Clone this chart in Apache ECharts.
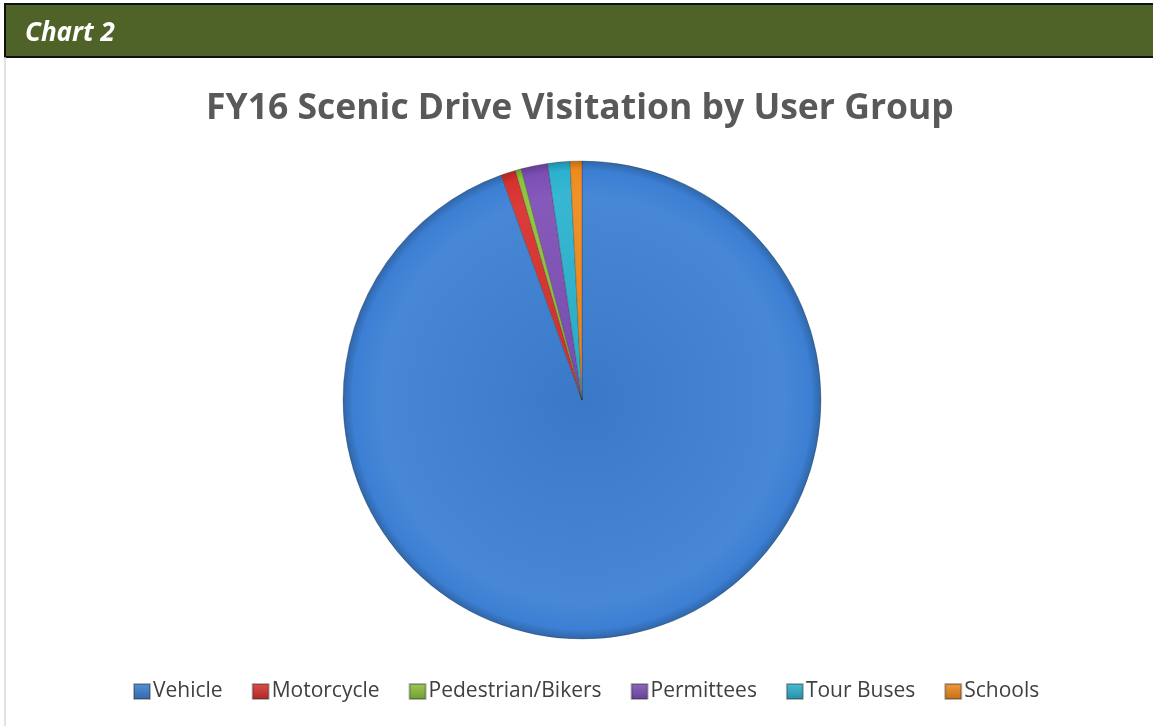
<!DOCTYPE html>
<html><head><meta charset="utf-8">
<script src="https://cdn.jsdelivr.net/npm/echarts@6/dist/echarts.min.js"></script>
<style>html,body{margin:0;padding:0;background:#fff;}#c{width:1153px;height:726px;}</style>
</head><body><div id="c"></div>
<script>
const categories = ['Vehicle','Motorcycle','Pedestrian/Bikers','Permittees','Tour Buses','Schools'];
const values = [94.6, 1.0, 0.4, 1.8, 1.5, 0.8];
const colors = ['#3c7fd3','#d8302d','#8cc23a','#7d4fb6','#2bb2cf','#f08a1c'];
const headerText = 'Chart 2';
const titleText = 'FY16 Scenic Drive Visitation by User Group';

function shade(hex, f){
  const n = parseInt(hex.slice(1),16);
  let r=(n>>16)&255,g=(n>>8)&255,b=n&255;
  const adj = c => Math.max(0,Math.min(255,Math.round(f>0? c+(255-c)*f : c*(1+f))));
  return 'rgb('+adj(r)+','+adj(g)+','+adj(b)+')';
}
const CX = 582, CY = 400, R = 239;
const FONT = '"Open Sans", "Liberation Sans", sans-serif';

const chart = echarts.init(document.getElementById('c'), null, {renderer:'canvas'});
chart.setOption({
  backgroundColor:'#ffffff',
  animation:false,
  graphic:[
    {type:'rect', shape:{x:5,y:4,width:1160,height:53}, style:{fill:'#4f6228', stroke:'#111', lineWidth:2}},
    {type:'line', shape:{x1:5,y1:57,x2:5,y2:726}, style:{stroke:'#d9d9d9', lineWidth:1.5}},
    {type:'text', left:25, top:21, style:{text:headerText, fill:'#ffffff', font:'italic bold 26px ' + FONT}}
  ],
  title:{text:titleText, left:201, top:86,
    textStyle:{color:'#595959', fontSize:35.5, fontWeight:'bold', fontFamily:FONT}},
  legend:{bottom:19, left:128, itemWidth:16, itemHeight:15, itemGap:29, icon:'rect',
    textStyle:{color:'#404040', fontSize:21, fontFamily:FONT, padding:[0,0,0,-2]},
    data:categories.map((c,i)=>({name:c, itemStyle:{color:{type:'linear',x:0,y:0,x2:0,y2:1,
      colorStops:[{offset:0,color:shade(colors[i],0.15)},{offset:1,color:shade(colors[i],-0.2)}]}}}))},
  series:[{
    type:'pie', center:[CX,CY], radius:[0,R], startAngle:90, clockwise:true,
    label:{show:false}, labelLine:{show:false},
    itemStyle:{borderColor:'rgba(40,40,40,0.35)', borderWidth:0.8},
    emphasis:{disabled:true},
    data: categories.map((c,i)=>({name:c, value:values[i],
      itemStyle:{color:{type:'radial', x:CX, y:CY, r:R, global:true,
        colorStops:[{offset:0,color:shade(colors[i],-0.05)},{offset:0.85,color:shade(colors[i],0.06)},{offset:0.96,color:colors[i]},{offset:1,color:shade(colors[i],-0.2)}]}}}))
  }]
});
</script></body></html>
